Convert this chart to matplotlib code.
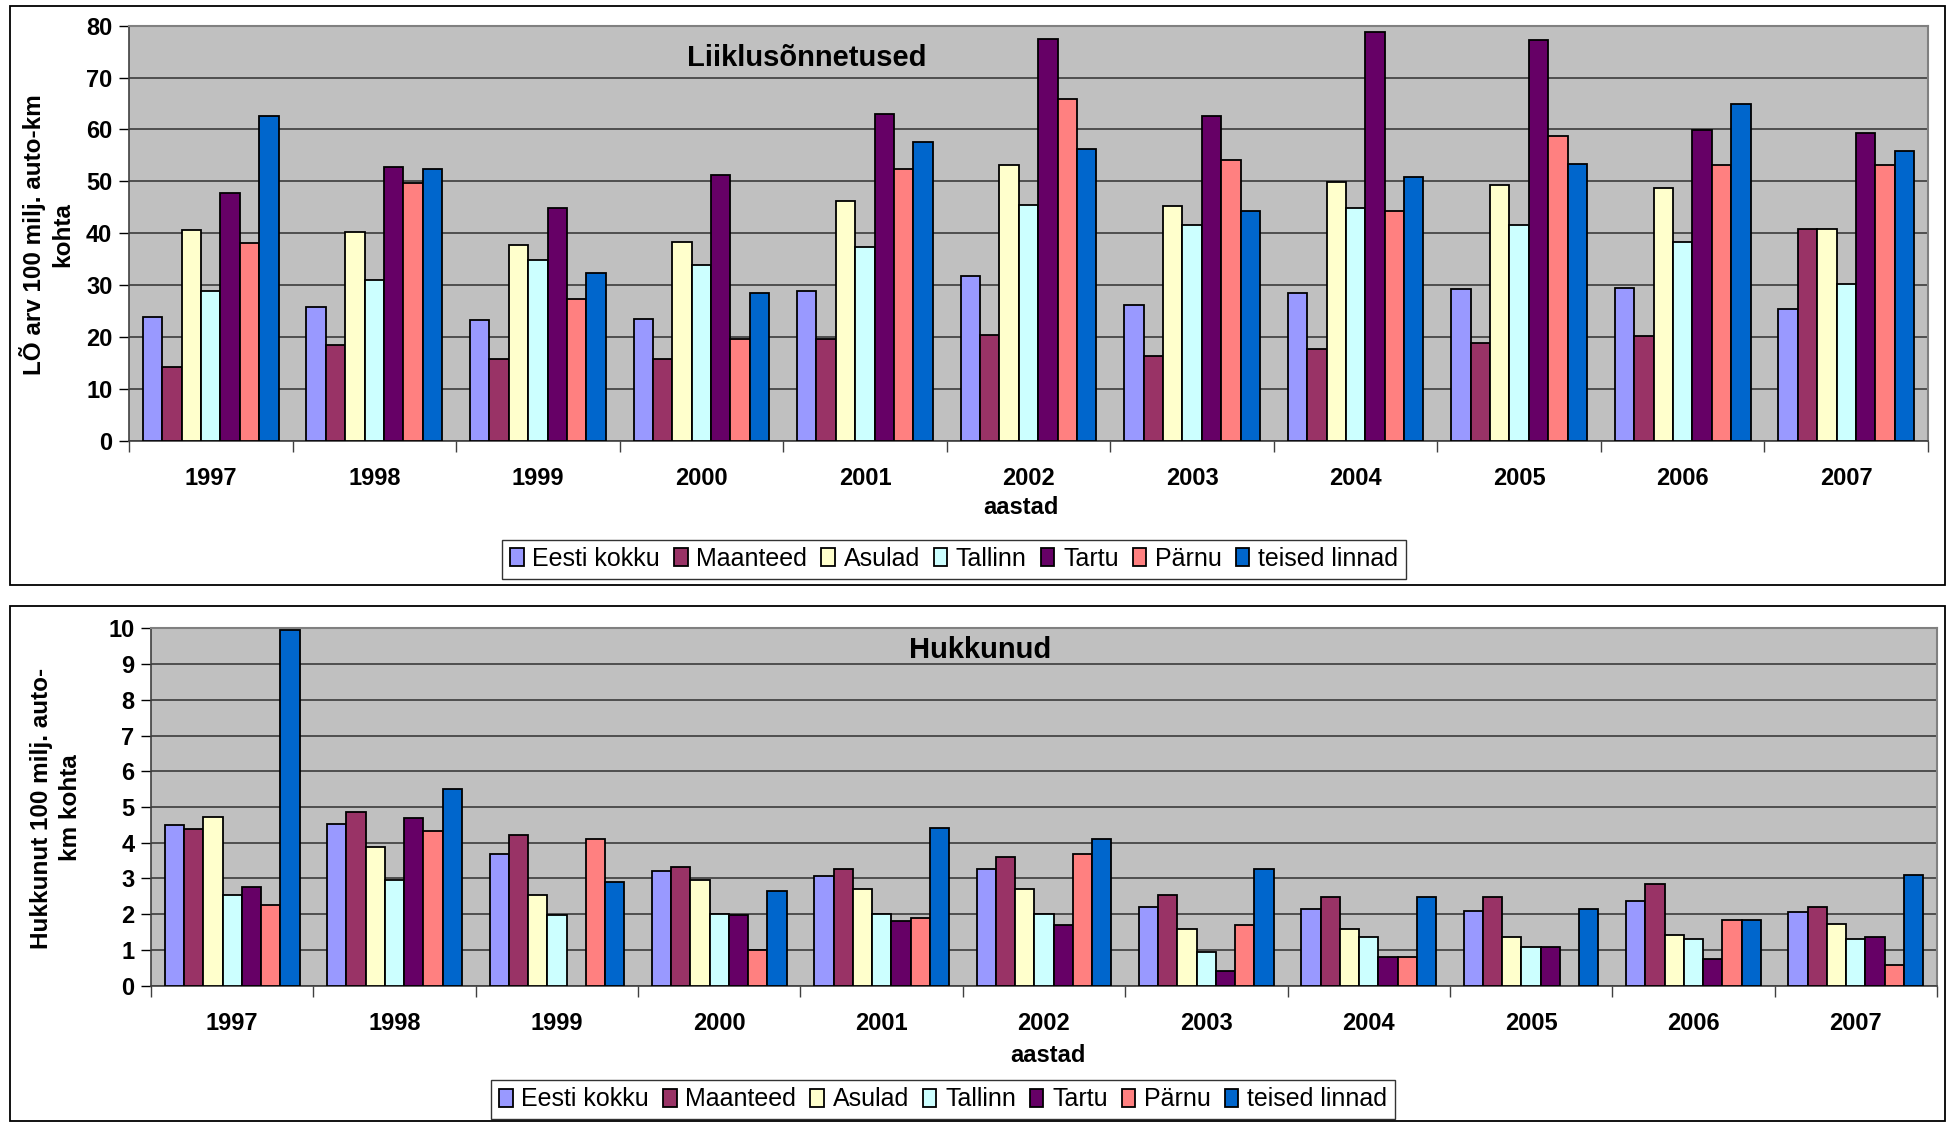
import numpy as np
import matplotlib
matplotlib.use("Agg")
import matplotlib.pyplot as plt
from matplotlib.patches import Rectangle, Patch

years = ["1997", "1998", "1999", "2000", "2001", "2002", "2003", "2004", "2005", "2006", "2007"]
series = ["Eesti kokku", "Maanteed", "Asulad", "Tallinn", "Tartu", "Pärnu", "teised linnad"]
colors = ["#9999FF", "#993366", "#FFFFCC", "#CCFFFF", "#660066", "#FF8080", "#0066CC"]

# Liiklusõnnetused (accidents per 100 mln vehicle-km)
acc_eesti = [23.8, 25.7, 23.2, 23.5, 28.9, 31.7, 26.1, 28.5, 29.3, 29.5, 25.3]
acc_maanteed = [14.3, 18.5, 15.7, 15.7, 19.6, 20.4, 16.4, 17.7, 18.9, 20.1, 40.9]
acc_asulad = [40.6, 40.3, 37.7, 38.4, 46.3, 53.1, 45.2, 49.9, 49.2, 48.8, 40.9]
acc_tallinn = [28.9, 31.0, 34.9, 33.8, 37.4, 45.5, 41.5, 44.8, 41.5, 38.4, 30.2]
acc_tartu = [47.7, 52.7, 44.8, 51.3, 63.0, 77.5, 62.6, 78.7, 77.2, 59.8, 59.4]
acc_parnu = [38.2, 49.6, 27.4, 19.6, 52.3, 65.9, 54.1, 44.2, 58.8, 53.1, 53.1]
acc_teised = [62.6, 52.3, 32.3, 28.5, 57.6, 56.2, 44.2, 50.8, 53.3, 65.0, 55.9]

# Hukkunud (killed per 100 mln vehicle-km); None = no bar
kil_eesti = [4.49, 4.53, 3.69, 3.21, 3.06, 3.27, 2.21, 2.15, 2.10, 2.37, 2.05]
kil_maanteed = [4.38, 4.85, 4.23, 3.32, 3.27, 3.59, 2.54, 2.48, 2.48, 2.85, 2.21]
kil_asulad = [4.73, 3.89, 2.54, 2.95, 2.70, 2.70, 1.58, 1.58, 1.36, 1.42, 1.74]
kil_tallinn = [2.54, 2.96, 1.97, 2.00, 2.00, 2.00, 0.95, 1.36, 1.09, 1.31, 1.31]
kil_tartu = [2.75, 4.68, None, 1.97, 1.80, 1.69, 0.42, 0.79, 1.09, 0.75, 1.36]
kil_parnu = [2.27, 4.33, 4.11, 1.01, 1.90, 3.69, 1.69, 0.79, None, 1.85, 0.58]
kil_teised = [9.95, 5.49, 2.89, 2.64, 4.42, 4.10, 3.26, 2.48, 2.15, 1.85, 3.10]

acc_data = [acc_eesti, acc_maanteed, acc_asulad, acc_tallinn, acc_tartu, acc_parnu, acc_teised]
kil_data = [kil_eesti, kil_maanteed, kil_asulad, kil_tallinn, kil_tartu, kil_parnu, kil_teised]

plt.rcParams['font.family'] = ['Liberation Sans', 'DejaVu Sans']

W, H = 1952, 1124
fig = plt.figure(figsize=(W / 100, H / 100), dpi=100)
fig.patch.set_facecolor("white")


def fx(px):
    return px / W


def fy(py):
    return 1 - py / H


# panel frames
for (x0, y0, x1, y1) in [(10, 6, 1945, 585), (10, 606, 1945, 1121)]:
    fig.patches.append(Rectangle((fx(x0), fy(y1)), fx(x1) - fx(x0), fy(y0) - fy(y1),
                                 transform=fig.transFigure, fill=False,
                                 edgecolor="black", linewidth=1.3, zorder=0))


def draw(ax, data, ymax, ystep, title, tx, ty):
    n = len(series)
    group = 0.83
    bw = group / n
    x = np.arange(len(years))
    for i, (vals, c) in enumerate(zip(data, colors)):
        v = np.array([np.nan if a is None else a for a in vals], dtype=float)
        ax.bar(x - group / 2 + bw * (i + 0.5), v, width=bw, color=c,
               edgecolor="black", linewidth=1.3, zorder=3)
    ax.set_facecolor("#C0C0C0")
    ax.set_xlim(-0.5, len(years) - 0.5)
    ax.set_ylim(0, ymax)
    ax.set_yticks(np.arange(0, ymax + 0.001, ystep))
    ax.yaxis.grid(True, color="#303030", linewidth=1.1, zorder=1)
    ax.set_axisbelow(True)
    ax.set_xticks(x)
    ax.set_xticklabels(years, fontsize=17, fontweight="bold")
    ax.set_xticks(np.arange(-0.5, len(years)), minor=True)
    ax.tick_params(axis="x", which="major", length=0, pad=19)
    ax.tick_params(axis="x", which="minor", length=8, width=1, direction="out", color="#404040")
    ax.tick_params(axis="y", length=7, width=1, direction="out", pad=5, labelsize=17)
    for lab in ax.get_yticklabels():
        lab.set_fontweight("bold")
    for s in ["left", "bottom"]:
        ax.spines[s].set_color("#404040")
        ax.spines[s].set_linewidth(1.2)
    for s in ["top", "right"]:
        ax.spines[s].set_color("#808080")
        ax.spines[s].set_linewidth(1.5)
    ax.text(tx, ty, title, transform=ax.transAxes, ha="center", va="center",
            fontsize=21, fontweight="bold", zorder=5)


ax1 = fig.add_axes([fx(129), fy(440.7), fx(1928) - fx(129), fy(25.7) - fy(440.7)])
draw(ax1, acc_data, 80, 10, "Liiklusõnnetused", 0.377, 0.922)
ax2 = fig.add_axes([fx(151), fy(985.7), fx(1937) - fx(151), fy(628.3) - fy(985.7)])
draw(ax2, kil_data, 10, 1, "Hukkunud", 0.464, 0.939)

# y labels
fig.text(fx(47), fy(235), "LÕ arv 100 milj. auto-km\nkohta", rotation=90, ha="center", va="center",
         fontsize=17.5, fontweight="bold", linespacing=1.3)
fig.text(fx(56), fy(808), "Hukkunut 100 milj. auto-\nkm kohta", rotation=90, ha="center", va="center",
         fontsize=17.5, fontweight="bold", linespacing=1.3)

# x labels
fig.text(fx(1021), fy(508), "aastad", ha="center", va="center", fontsize=17, fontweight="bold")
fig.text(fx(1048), fy(1056), "aastad", ha="center", va="center", fontsize=17, fontweight="bold")

handles = [Patch(facecolor=c, edgecolor="black", linewidth=1.3) for c in colors]
for (cx, cy) in [(954, 559), (943, 1099.5)]:
    leg = fig.legend(handles, series, loc="center", bbox_to_anchor=(fx(cx), fy(cy)),
                     ncol=7, fontsize=18, frameon=True, fancybox=False,
                     handlelength=0.55, handleheight=0.75, handletextpad=0.35,
                     columnspacing=0.55, borderpad=0.3, borderaxespad=0)
    leg.get_frame().set_edgecolor("black")
    leg.get_frame().set_linewidth(1.0)

fig.savefig("out.png", dpi=100, facecolor="white")
